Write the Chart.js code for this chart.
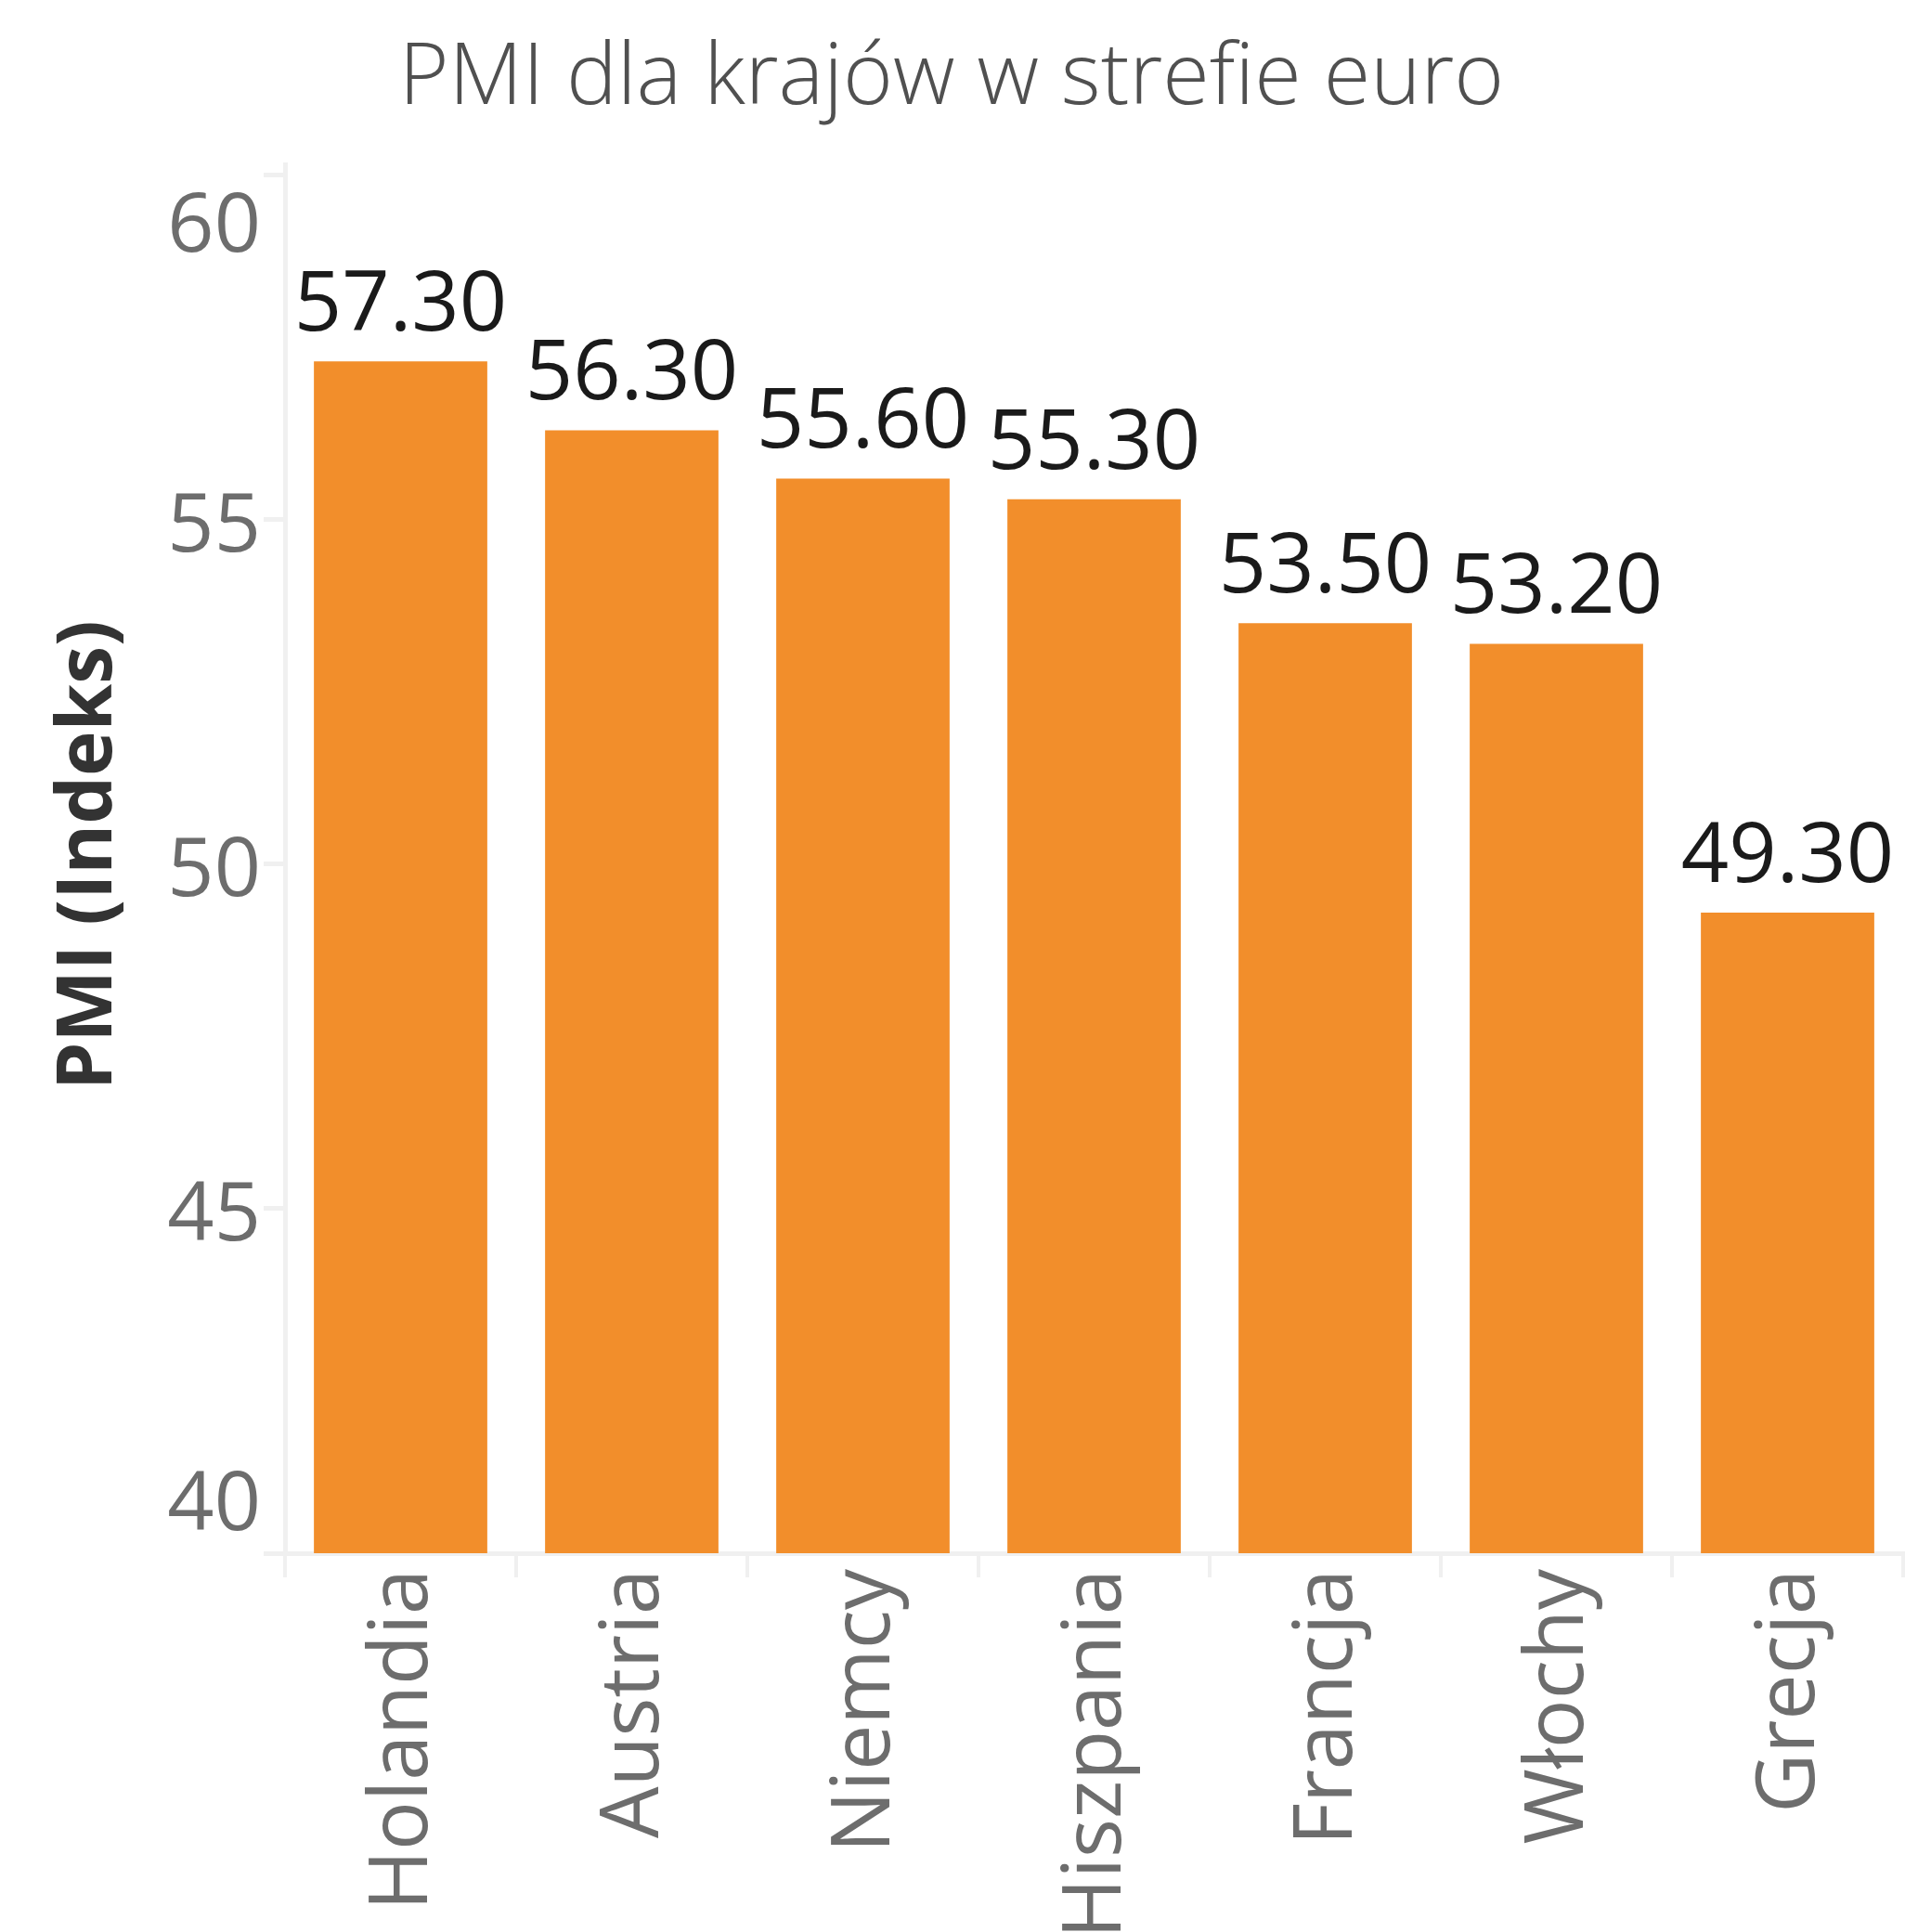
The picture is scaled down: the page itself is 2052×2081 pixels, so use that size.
<!DOCTYPE html>
<html>
<head>
<meta charset="utf-8">
<script src="https://cdn.jsdelivr.net/npm/chart.js@4/dist/chart.umd.min.js"></script>
<style>
html,body{margin:0;padding:0;background:#fff;}
canvas{display:block;}
</style>
</head>
<body>
<canvas id="c" width="2052" height="2081"></canvas>
<script>
const categories = ['Holandia','Austria','Niemcy','Hiszpania','Francja','Włochy','Grecja'];
const pmiValues = [57.3, 56.3, 55.6, 55.3, 53.5, 53.2, 49.3];
const yTickValues = [40, 45, 50, 55, 60];
const yTickLabels = ['40', '45', '50', '55', '60'];
const chartTitle = 'PMI dla krajów w strefie euro';
const yAxisTitle = 'PMI (Indeks)';

const FONT = '"Open Sans", "Noto Sans", sans-serif';
const AXIS_COLOR = '#f0f0f0';

const customText = {
  id: 'customText',
  afterDatasetsDraw(chart) {
    const ctx = chart.ctx;
    const meta = chart.getDatasetMeta(0);
    ctx.save();
    ctx.font = '90px ' + FONT;
    ctx.fillStyle = '#1a1a1a';
    ctx.textAlign = 'center';
    ctx.textBaseline = 'alphabetic';
    meta.data.forEach((bar, i) => {
      ctx.fillText(pmiValues[i].toFixed(2), bar.x, bar.y - 33);
    });
    ctx.restore();
  },
  afterDraw(chart) {
    const ctx = chart.ctx;
    const y = chart.scales.y;
    const area = chart.chartArea;
    ctx.save();
    ctx.font = '88px ' + FONT;
    ctx.fillStyle = '#6d6d6d';
    ctx.textAlign = 'right';
    ctx.textBaseline = 'alphabetic';
    const capHalf = 31;
    yTickValues.forEach((v, i) => {
      let cy = y.getPixelForValue(v) + 3;
      cy = Math.max(cy, area.top + 63);
      cy = Math.min(cy, area.bottom - 56);
      ctx.fillText(yTickLabels[i], 281, cy + capHalf);
    });
    // y axis title
    ctx.font = 'bold 82px ' + FONT;
    ctx.fillStyle = '#333333';
    ctx.textAlign = 'center';
    ctx.translate(120, (area.top + area.bottom) / 2 - 4);
    ctx.rotate(-Math.PI / 2);
    ctx.fillText(yAxisTitle, 0, 0);
    ctx.restore();
  }
};

new Chart(document.getElementById('c'), {
  type: 'bar',
  data: {
    labels: categories,
    datasets: [{
      data: pmiValues,
      backgroundColor: '#F28E2B',
      borderWidth: 0,
      barPercentage: 0.75,
      categoryPercentage: 1.0
    }]
  },
  options: {
    responsive: false,
    animation: false,
    devicePixelRatio: 1,
    layout: { padding: { left: 0, right: 2, top: 0, bottom: 0 } },
    plugins: {
      legend: { display: false },
      tooltip: { enabled: false },
      title: {
        display: true,
        text: chartTitle,
        font: { family: FONT, size: 92, weight: '300' },
        color: '#505050',
        padding: { top: 31, bottom: 35.6 }
      }
    },
    scales: {
      x: {
        offset: true,
        grid: {
          display: true,
          drawOnChartArea: false,
          drawTicks: true,
          tickLength: 26,
          lineWidth: 4,
          color: AXIS_COLOR
        },
        border: { display: true, color: AXIS_COLOR, width: 5 },
        ticks: {
          minRotation: 90,
          maxRotation: 90,
          autoSkip: false,
          padding: -9,
          labelOffset: 3,
          color: '#6d6d6d',
          font: { family: FONT, size: 88 }
        },
        afterFit(scale) { scale.height = 408; }
      },
      y: {
        min: 40,
        max: 60.16,
        grid: {
          display: true,
          drawOnChartArea: false,
          drawTicks: true,
          tickLength: 23,
          lineWidth: 5,
          color: AXIS_COLOR
        },
        border: { display: true, color: AXIS_COLOR, width: 5 },
        ticks: { display: false },
        afterBuildTicks(scale) { scale.ticks = yTickValues.map(v => ({ value: v })); },
        afterFit(scale) { scale.width = 307; }
      }
    }
  },
  plugins: [customText]
});
</script>
</body>
</html>
